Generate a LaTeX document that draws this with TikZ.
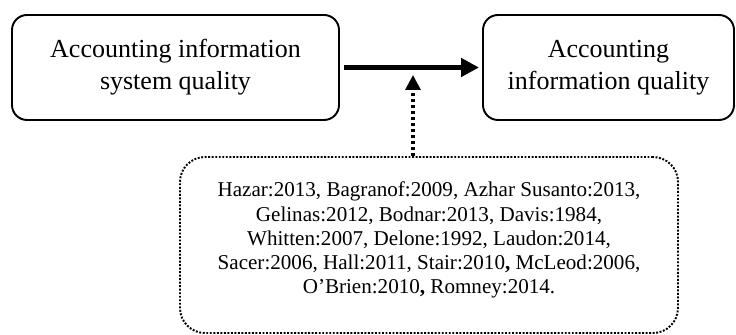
\documentclass[tikz,border=0pt]{standalone}
\usepackage{fontspec}
\setmainfont{Liberation Serif}
\usetikzlibrary{arrows.meta,positioning,calc}

\begin{document}
\begin{tikzpicture}[
    varbox/.style={draw, line width=1.1pt, rounded corners=0.3cm, align=center, minimum height=2.1cm, font=\fontsize{14.8}{18.2}\selectfont},
    litbox/.style={draw, line width=1.1pt, dash pattern=on 1.1pt off 0.9pt, rounded corners=0.5cm, align=center, font=\fontsize{12}{13.7}\selectfont}]
    \useasboundingbox (0,0) rectangle (14.72,6.70);
    \node[varbox, minimum width=6.54cm] (aisq) at (3.51,5.35) {Accounting information\\system quality};
    \node[varbox, minimum width=5.02cm] (aiq) at (12.17,5.35) {Accounting\\information quality};
    \node[litbox, minimum width=9.96cm, minimum height=3.52cm] (lit) at (8.58,1.8) {};
    \node[font=\fontsize{12}{13.7}\selectfont, align=center] (littext) at ($(lit.center)+(0,0.1)$)
        {Hazar:2013, Bagranof:2009, Azhar Susanto:2013,\\
         Gelinas:2012, Bodnar:2013, Davis:1984,\\
         Whitten:2007, Delone:1992, Laudon:2014,\\
         Sacer:2006, Hall:2011, Stair:2010\textbf{,} McLeod:2006,\\
         O’Brien:2010\textbf{,} Romney:2014.};
    \coordinate (mod) at (8.26,5.2);
    \draw[line width=3.4pt, -{Triangle[length=0.36cm,width=0.36cm]}, shorten <=0.08cm, shorten >=0.06cm] (aisq) -- (aiq);
    \draw[line width=1.8pt, dash pattern=on 2pt off 1.4pt, -{Triangle[length=0.3cm,width=0.3cm]}] (lit.north -| mod) -- (mod);
\end{tikzpicture}
\end{document}
